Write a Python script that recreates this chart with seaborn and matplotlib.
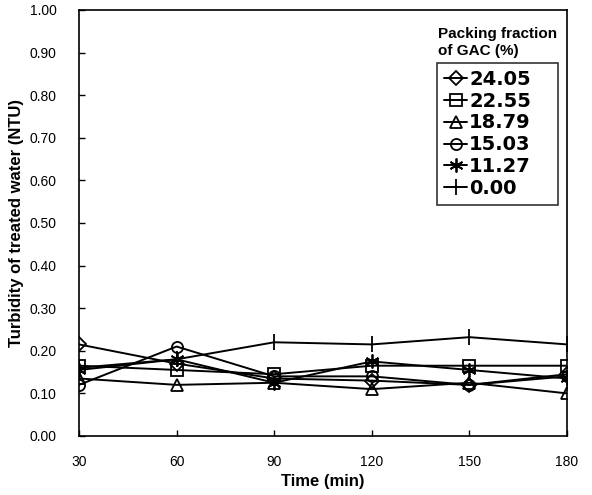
import matplotlib
matplotlib.use("Agg")
import matplotlib.pyplot as plt
import seaborn as sns
import pandas as pd

time_min = [30, 60, 90, 120, 150, 180]
labels = ["24.05", "22.55", "18.79", "15.03", "11.27", "0.00"]
s_2405 = [0.215, 0.170, 0.135, 0.130, 0.120, 0.145]
s_2255 = [0.165, 0.155, 0.145, 0.165, 0.165, 0.165]
s_1879 = [0.135, 0.120, 0.125, 0.110, 0.125, 0.100]
s_1503 = [0.120, 0.210, 0.140, 0.140, 0.120, 0.140]
s_1127 = [0.155, 0.180, 0.125, 0.175, 0.155, 0.135]
s_0000 = [0.160, 0.180, 0.220, 0.215, 0.232, 0.215]
series = [s_2405, s_2255, s_1879, s_1503, s_1127, s_0000]
markers = ["D", "s", "^", "o", (6, 2, 0), "|"]
msizes = [7, 8, 8, 8, 10, 11]
yticks = [0.0, 0.1, 0.2, 0.3, 0.4, 0.5, 0.6, 0.7, 0.8, 0.9, 1.0]

sns.set_theme(style="white")
plt.rcParams['font.family'] = ['Liberation Sans', 'DejaVu Sans']
plt.rcParams['text.color'] = 'black'
plt.rcParams['axes.labelcolor'] = 'black'
plt.rcParams['xtick.color'] = 'black'
plt.rcParams['ytick.color'] = 'black'

fig = plt.figure(figsize=(5.92, 4.95), dpi=100)
ax = fig.add_axes([0.1334, 0.1192, 0.8244, 0.8606])

for lab, vals, m, ms in zip(labels, series, markers, msizes):
    df = pd.DataFrame({"t": time_min, "v": vals})
    sns.lineplot(data=df, x="t", y="v", ax=ax, color="black", linewidth=1.4,
                 marker=m, markersize=ms, markerfacecolor="none",
                 markeredgecolor="black", markeredgewidth=1.3, label=lab)

ax.set_xlim(30, 180)
ax.set_ylim(0, 1.0)
ax.set_xticks(time_min)
ax.set_xticklabels([str(t) for t in time_min])
ax.set_yticks(yticks)
ax.set_yticklabels([f"{v:.2f}" for v in yticks])
ax.tick_params(axis="both", direction="in", length=4, width=1, labelsize=10,
               bottom=True, left=True, colors="black")
ax.tick_params(axis="x", pad=14)
ax.tick_params(axis="y", pad=16)
for sp in ax.spines.values():
    sp.set_color("black")
    sp.set_linewidth(1.2)

ax.set_xlabel("Time (min)", fontsize=12, fontweight="bold", labelpad=3, color="black")
ax.set_ylabel("Turbidity of treated water (NTU)", fontsize=12, fontweight="bold",
              labelpad=4, color="black")

ax.text(0.735, 0.96, "Packing fraction\nof GAC (%)", transform=ax.transAxes,
        fontsize=11, fontweight="bold", ha="left", va="top", linespacing=1.25,
        color="black")

leg = ax.legend(loc="upper left", bbox_to_anchor=(0.734, 0.55, 0.248, 0.326),
                mode="expand", frameon=True,
                fancybox=False, edgecolor="black", handlelength=1.2,
                handletextpad=0.1, borderpad=0.35, labelspacing=0.15,
                borderaxespad=0.0, labelcolor="black",
                prop={"family": "DejaVu Sans", "weight": "bold", "size": 14})
leg.get_frame().set_linewidth(1.2)

fig.savefig("out.png", dpi=100)
